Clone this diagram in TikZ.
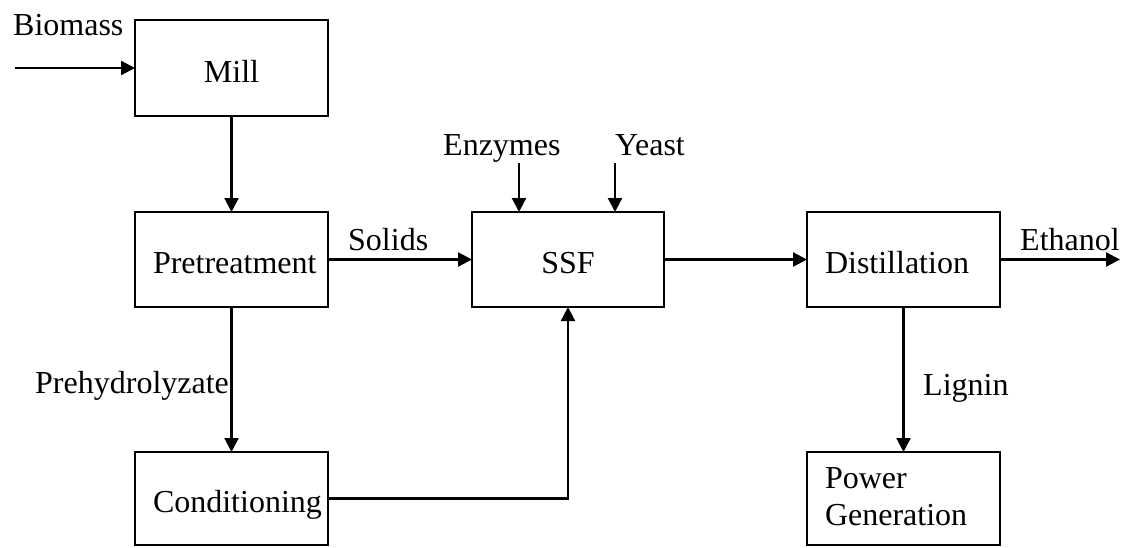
\documentclass[tikz,border=0pt]{standalone}
\usepackage{fontspec}
\setmainfont{Liberation Serif}
\usetikzlibrary{arrows.meta}
\begin{document}
\begin{tikzpicture}[x=1pt,y=-1pt,
  font=\fontsize{32}{37}\selectfont,
  box/.style={draw, line width=2.2pt, minimum width=193pt, minimum height=95pt,
    inner sep=0pt, outer sep=0pt, text height=28pt, text depth=0pt, anchor=north west},
  lbox/.style={box, text width=157pt, inner xsep=18pt, align=left},
  arr/.style={line width=2.2pt, -{Triangle[length=14pt,width=14pt]}},
  lbl/.style={anchor=base west, inner sep=0pt}]
\useasboundingbox (0,0) rectangle (1133,547);

% boxes
\node[box, minimum height=96pt] (mill) at (135,20) {Mill};
\node[lbox] (pre) at (135,212) {Pretreatment};
\node[lbox, minimum height=93pt] (cond) at (135,452) {Conditioning};
\node[box, minimum width=192pt] (ssf) at (472,212) {SSF};
\node[lbox] (dist) at (807,212) {Distillation};
\node[lbox, minimum height=93pt, text height=6pt, text depth=26pt] (pow) at (807,452) {Power\\Generation};

% free ends
\coordinate (bio) at (15,68);
\coordinate (enz) at (519,163);
\coordinate (yst) at (615,163);
\coordinate (eth) at (1120,259.5);

% labels
\node[lbl] (lbio) at (13,35) {Biomass};
\node[lbl] (lenz) at (443,155) {Enzymes};
\node[lbl] (lyst) at (615,155) {Yeast};
\node[lbl] (lsol) at (348,250) {Solids};
\node[lbl] (leth) at (1020,250) {Ethanol};
\node[lbl] (lpre) at (35,393) {Prehydrolyzate};
\node[lbl] (llig) at (923,395) {Lignin};

% connectors
\draw[arr] (bio) -- (bio -| mill.west);
\draw[arr] (mill.south) -- (pre.north);
\draw[arr] (pre.east) -- (ssf.west);
\draw[arr] (pre.south) -- (cond.north);
\draw[arr] (cond.east) -| (ssf.south);
\draw[arr] (enz) -- (enz |- ssf.north);
\draw[arr] (yst) -- (yst |- ssf.north);
\draw[arr] (ssf.east) -- (dist.west);
\draw[arr] (dist.east) -- (eth);
\draw[arr] (dist.south) -- (pow.north);
\end{tikzpicture}
\end{document}
